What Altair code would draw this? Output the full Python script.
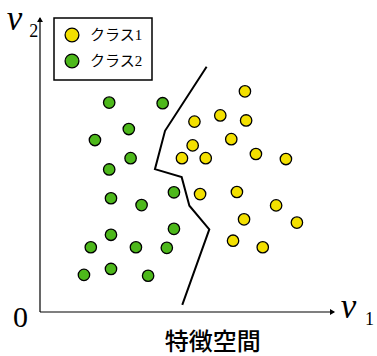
import altair as alt
import pandas as pd

# Feature values of the two classes (v1, v2)
green_v1 = [2.33, 4.13, 2.99, 1.85, 3.05, 2.33, 2.39, 3.42, 4.51, 4.51, 2.39, 1.71, 3.23, 4.27, 1.48, 2.39, 3.64]
green_v2 = [7.05, 7.03, 6.16, 5.79, 5.18, 4.80, 3.83, 3.60, 4.03, 2.80, 2.60, 2.18, 2.18, 2.16, 1.25, 1.45, 1.22]
yellow_v1 = [6.90, 6.07, 6.94, 5.20, 6.44, 5.14, 4.78, 5.58, 7.27, 8.28, 5.39, 6.63, 7.95, 6.87, 8.65, 6.50, 7.50]
yellow_v2 = [7.43, 6.62, 6.45, 6.41, 5.82, 5.61, 5.18, 5.18, 5.32, 5.15, 3.97, 4.04, 3.59, 3.12, 3.01, 2.40, 2.18]

# Decision boundary polyline
boundary_v1 = [5.61, 4.21, 3.87, 4.77, 5.03, 5.70, 4.79]
boundary_v2 = [8.26, 6.10, 4.81, 4.54, 3.58, 2.78, 0.24]

class_names = ["クラス1", "クラス2"]
class_colors = ["#F3E000", "#4DB81B"]

points = pd.DataFrame({
    "v1": yellow_v1 + green_v1,
    "v2": yellow_v2 + green_v2,
    "cls": [class_names[0]] * len(yellow_v1) + [class_names[1]] * len(green_v1),
})
boundary = pd.DataFrame({"v1": boundary_v1, "v2": boundary_v2, "i": list(range(len(boundary_v1)))})

xs = alt.Scale(domain=[0, 10], nice=False, zero=False)
ys = alt.Scale(domain=[0, 10], nice=False, zero=False)
X = lambda f="v1": alt.X(f, type="quantitative", scale=xs, axis=None)
Y = lambda f="v2": alt.Y(f, type="quantitative", scale=ys, axis=None)

# Axes with arrowheads
axes_df = pd.DataFrame({"v1": [0, 0], "v2": [0, 0], "v1e": [9.9, 0], "v2e": [0, 9.9]})
axes = alt.Chart(axes_df).mark_rule(color="black", strokeWidth=1.2).encode(
    x=X(), y=Y(), x2="v1e", y2="v2e"
)
heads_df = pd.DataFrame({"v1": [9.85, 0], "v2": [0, 9.85], "shape": ["triangle-right", "triangle-up"]})
heads = alt.Chart(heads_df).mark_point(filled=True, color="black", size=35, opacity=1).encode(
    x=X(), y=Y(), shape=alt.Shape("shape:N", scale=None)
)

line = alt.Chart(boundary).mark_line(color="black", strokeWidth=2).encode(
    x=X(), y=Y(), order="i:Q"
)

dots = alt.Chart(points).mark_point(
    filled=True, size=130, stroke="black", strokeWidth=1.3, opacity=1
).encode(
    x=X(), y=Y(),
    fill=alt.Fill(
        "cls:N",
        scale=alt.Scale(domain=class_names, range=class_colors),
        legend=alt.Legend(
            title=None, orient="none", legendX=14, legendY=3,
            strokeColor="black", padding=9,
            symbolSize=190, symbolType="circle",
            symbolStrokeColor="black", symbolStrokeWidth=1.3,
            labelFont="Liberation Serif, Noto Sans CJK JP", labelFontSize=15, labelColor="black",
            rowPadding=6, labelOffset=10, symbolOffset=1,
        ),
    ),
)

labels_df = pd.DataFrame({
    "v1": [-0.66], "v2": [-0.5], "t": ["0"],
})
zero = alt.Chart(labels_df).mark_text(
    font="Liberation Serif", fontSize=30, align="center", baseline="alphabetic", color="black"
).encode(x=X(), y=Y(), text="t:N")

v_df = pd.DataFrame({"v1": [10.13, -1.12], "v2": [-0.2, 9.49], "t": ["v", "v"]})
v_text = alt.Chart(v_df).mark_text(
    font="Liberation Serif", fontStyle="italic", fontSize=35, align="left", baseline="alphabetic", color="black"
).encode(x=X(), y=Y(), text="t:N")

sub_df = pd.DataFrame({"v1": [10.94, -0.36], "v2": [-0.44, 9.26], "t": ["1", "2"]})
sub_text = alt.Chart(sub_df).mark_text(
    font="Liberation Serif", fontSize=18, align="left", baseline="alphabetic", color="black"
).encode(x=X(), y=Y(), text="t:N")

title_df = pd.DataFrame({"v1": [5.82], "v2": [-1.27], "t": ["特徴空間"]})
title = alt.Chart(title_df).mark_text(
    font="Noto Sans CJK JP", fontSize=24, fontWeight=500, align="center", baseline="alphabetic", color="black"
).encode(x=X(), y=Y(), text="t:N")

chart = alt.layer(axes, heads, line, dots, zero, v_text, sub_text, title).properties(
    width=297, height=297,
    autosize=alt.AutoSizeParams(type="none"),
    padding={"left": 40, "top": 15, "right": 40, "bottom": 44},
    background="white",
).configure_view(stroke=None).configure_legend(strokeWidth=1.5)

chart.save("out.html", embed_options={"renderer": "svg", "actions": False})
